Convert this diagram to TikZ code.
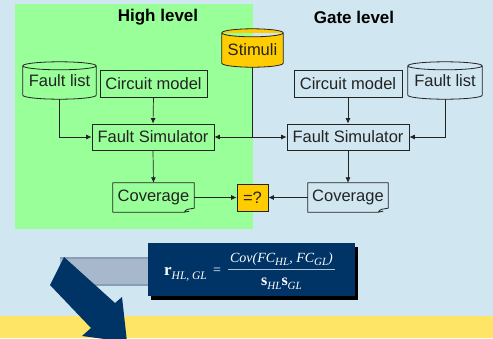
\documentclass[tikz,border=0pt]{standalone}
\usepackage{fontspec}
\setmainfont{Liberation Sans}
\newfontfamily\tms{Liberation Serif}
\usetikzlibrary{arrows.meta,calc}
\definecolor{bgblue}{RGB}{208,230,240}
\definecolor{hlgreen}{RGB}{153,255,153}
\definecolor{gold}{RGB}{255,204,0}
\definecolor{strip}{RGB}{255,229,102}
\definecolor{navy}{RGB}{0,51,102}
\definecolor{band}{RGB}{168,184,204}
\definecolor{bandedge}{RGB}{138,157,183}
\definecolor{ink}{RGB}{35,35,35}
\pgfdeclarelayer{back}
\pgfdeclarelayer{mid}
\pgfsetlayers{back,mid,main}
\newcommand\cylshape[2]{%
  \draw[draw=ink, fill=#2, line width=0.8pt] let \p1=(#1.north west), \p2=(#1.south east), \n1={(\x2-\x1)/2} in
   (\x1,\y1-4pt) -- (\x1,\y2+4pt) arc[start angle=180,end angle=360,x radius=\n1*1pt,y radius=4pt]
   -- (\x2,\y1-4pt) arc[start angle=0,end angle=180,x radius=\n1*1pt,y radius=4pt] -- cycle
   (\x2,\y1-4pt) arc[start angle=0,end angle=-180,x radius=\n1*1pt,y radius=4pt];}
\newcommand\docshape[1]{%
  \draw[draw=ink, line width=0.8pt, line join=round] let \p1=(#1.north west), \p2=(#1.south east) in
   (\x1,\y1) -- (\x2,\y1) -- (\x2,\y2+4pt) -- (\x2-6pt,\y2+3pt) .. controls (\x2-8pt,\y2+2.5pt) .. (\x2-10pt,\y2) -- (\x1,\y2) -- cycle
   (\x2-10pt,\y2) .. controls (\x2-8pt,\y2+1pt) .. (\x2-5pt,\y2+1pt);}
\begin{document}
\begin{tikzpicture}[x=1pt,y=-1pt,
  lbl/.style={font=\fontsize{16.5}{18}\selectfont, text=ink},
  box/.style={lbl, draw=ink, line width=0.8pt, inner sep=0pt, minimum height=26pt},
  cyl/.style={lbl, inner sep=0pt, minimum height=37pt},
  doc/.style={lbl, inner sep=0pt, minimum height=29pt},
  head/.style={font=\bfseries\fontsize{17}{19}\selectfont, text=black},
  conn/.style={draw=ink, line width=0.7pt, -{Latex[length=5.5pt,width=5pt]}},
  wire/.style={draw=ink, line width=0.7pt},
  math/.style={text=white, inner sep=0pt}
]
\useasboundingbox (0,0) rectangle (493,338);
\begin{pgfonlayer}{back}
\fill[bgblue] (0,0) rectangle (493,338);
\fill[strip] (0,316) rectangle (493,338);
\fill[hlgreen] (15,4) rectangle (253,229);
\end{pgfonlayer}

\node[head] (hl) at (158,17) {High level};
\node[head] (gl) at (354,17) {Gate level};

% nodes
\node[cyl, minimum width=61pt, minimum height=38pt, text depth=0pt] (stim) at (252.5,48) {\raisebox{-3pt}{Stimuli}};
\node[cyl, minimum width=73pt] (hlfl) at (59.5,80.5) {\raisebox{-2pt}{Fault list}};
\node[box, minimum width=107pt, minimum height=27pt] (hlcm) at (153.5,83.5) {Circuit model};
\node[box, minimum width=122pt] (hlfs) at (153,137) {Fault Simulator};
\node[box, minimum width=108pt, minimum height=27pt] (glcm) at (348,83.5) {Circuit model};
\node[cyl, minimum width=74pt] (glfl) at (445,80.5) {\raisebox{-2pt}{Fault list}};
\node[box, minimum width=122pt] (glfs) at (348,137) {Fault Simulator};
\node[doc, minimum width=81pt] (hlcov) at (153.5,197.5) {Coverage};
\node[box, minimum width=31pt, minimum height=27pt] (eq) at (252.5,197.5) {=?};
\node[doc, minimum width=80pt] (glcov) at (348,197.5) {Coverage};

\begin{pgfonlayer}{mid}
\cylshape{stim}{gold}
\cylshape{hlfl}{hlgreen}
\cylshape{glfl}{bgblue}
\fill[gold] (eq.north west) rectangle (eq.south east);
\end{pgfonlayer}
\docshape{hlcov}
\docshape{glcov}

% connectors
\coordinate (split) at (stim.south |- hlfs.east);
\draw[wire] (stim.south) -- (split);
\draw[conn] (split) -- (hlfs.east);
\draw[conn] (split) -- (glfs.west);
\draw[conn] (hlfl.south) |- (hlfs.west);
\draw[conn] (hlcm.south) -- (hlfs.north);
\draw[conn] (glcm.south) -- (glfs.north);
\draw[conn] (glfl.south) |- (glfs.east);
\draw[conn] (hlfs.south) -- (hlcov.north);
\draw[conn] (glfs.south) -- (glcov.north);
\draw[conn] (hlcov.east) -- (eq.west);
\draw[conn] (glcov.west) -- (eq.east);

% formula panel
\fill[band] (60,257) rectangle (148,286);
\draw[bandedge, line width=1.5pt] (60,258) -- (148,258) (60,285) -- (148,285);
\fill[black] (151,247) rectangle (358,300);
\fill[navy] (148,243) rectangle (355,296);
\fill[navy] (64,257) -- (115,303) -- (122,297) -- (127,342) -- (82,336) -- (91,328) -- (50,285) -- cycle;

\node[math, anchor=base west] (lhs) at (164,275) {\tms\fontsize{17}{17}\selectfont\textbf{r}\raisebox{-4pt}{\fontsize{11.5}{11.5}\selectfont\itshape HL, GL}};
\node[math, anchor=base] (eqs) at (217,274) {\tms\fontsize{14}{14}\selectfont =};
\node[math, anchor=base] (num) at (281.5,262) {\tms\itshape\fontsize{14}{14}\selectfont Cov(FC\raisebox{-3.5pt}{\fontsize{11}{11}\selectfont HL}, FC\raisebox{-3.5pt}{\fontsize{11}{11}\selectfont GL})};
\node[math, anchor=base] (den) at (281.5,285) {\tms\fontsize{16}{16}\selectfont\textbf{s}\raisebox{-4pt}{\fontsize{11}{11}\selectfont\itshape HL}\textbf{s}\raisebox{-4pt}{\fontsize{11}{11}\selectfont\itshape GL}};
\draw[white!70!navy, line width=1pt] (228,269) -- (335,269);
\end{tikzpicture}
\end{document}
